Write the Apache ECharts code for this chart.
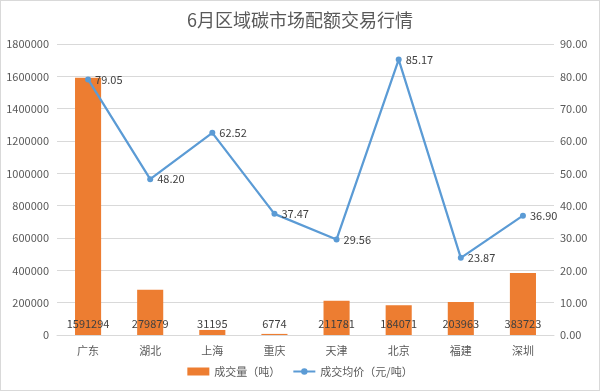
<!DOCTYPE html>
<html><head><meta charset="utf-8">
<script src="https://cdn.jsdelivr.net/npm/echarts@6/dist/echarts.min.js"></script>
<style>html,body{margin:0;padding:0;background:#fff}#c{width:600px;height:391px;box-sizing:border-box;border:1px solid #d9d9d9}</style>
</head><body><div id="c"></div>
<script>
var categories = ['广东','湖北','上海','重庆','天津','北京','福建','深圳'];
var volume = [1591294, 279879, 31195, 6774, 211781, 184071, 203963, 383723];
var price = [79.05, 48.20, 62.52, 37.47, 29.56, 85.17, 23.87, 36.90];
var leftTicks = {min: 0, max: 1800000, interval: 200000};
var rightTicks = {min: 0, max: 90, interval: 10};

var chart = echarts.init(document.getElementById('c'));
var font = '"Microsoft YaHei","Noto Sans CJK SC",sans-serif';
chart.setOption({
  animation: false,
  textStyle: {fontFamily: font},
  title: {text: '6月区域碳市场配额交易行情', left: 'center', top: 5,
    textStyle: {fontSize: 18, fontWeight: 'normal', color: '#595959', fontFamily: font}},
  grid: {left: 56, right: 45, top: 43, bottom: 55},
  legend: {bottom: 8, itemGap: 12, itemWidth: 22, itemHeight: 8,
    textStyle: {fontSize: 11, color: '#595959'},
    data: [{name: '成交量（吨）', icon: 'rect'}, {name: '成交均价（元/吨）'}]},
  xAxis: {type: 'category', data: categories,
    axisLine: {lineStyle: {color: '#d9d9d9'}}, axisTick: {show: false},
    axisLabel: {color: '#595959', fontSize: 11, margin: 10}},
  yAxis: [
    {type: 'value', min: leftTicks.min, max: leftTicks.max, interval: leftTicks.interval,
     axisLabel: {color: '#595959', fontSize: 11, margin: 8, formatter: function(v){return String(v);}},
     splitLine: {lineStyle: {color: '#d9d9d9'}}, axisLine: {show: false}, axisTick: {show: false}},
    {type: 'value', min: rightTicks.min, max: rightTicks.max, interval: rightTicks.interval,
     axisLabel: {color: '#595959', fontSize: 11, margin: 6, formatter: function(v){return v.toFixed(2);}},
     splitLine: {show: false}, axisLine: {show: false}, axisTick: {show: false}}
  ],
  series: [
    {name: '成交量（吨）', type: 'bar', data: volume, barWidth: '42%', yAxisIndex: 0,
     itemStyle: {color: '#ED7D31'},
     label: {show: true, position: 'insideBottom', distance: 6, color: '#404040', fontSize: 11,
       formatter: function(p){return p.value;}}},
    {name: '成交均价（元/吨）', type: 'line', data: price, yAxisIndex: 1,
     symbol: 'circle', symbolSize: 6,
     itemStyle: {color: '#5B9BD5'}, lineStyle: {color: '#5B9BD5', width: 2.25},
     label: {show: true, position: 'right', distance: 4, color: '#404040', fontSize: 11,
       formatter: function(p){return p.value.toFixed(2);}}}
  ]
});
</script></body></html>
